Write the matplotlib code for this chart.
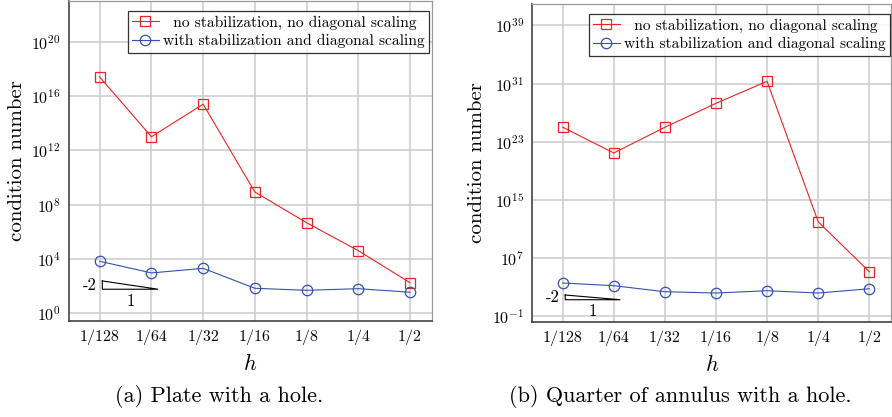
import matplotlib
matplotlib.use("Agg")
import matplotlib.pyplot as plt

plt.rcParams['font.family'] = ['cmr10', 'DejaVu Serif']
plt.rcParams['mathtext.fontset'] = 'cm'
plt.rcParams['axes.unicode_minus'] = False

# mesh sizes and tick labels
h = [1/128, 1/64, 1/32, 1/16, 1/8, 1/4, 1/2]
h_labels = ['1/128', '1/64', '1/32', '1/16', '1/8', '1/4', '1/2']

# (a) plate with a hole, log10 of condition numbers
plate_plain_exp = [17.4, 13.0, 15.4, 8.93, 6.67, 4.61, 2.25]
plate_stab_exp = [3.83, 2.97, 3.31, 1.84, 1.69, 1.81, 1.55]

# (b) quarter of annulus with a hole
annulus_plain_exp = [25.0, 21.45, 24.98, 28.28, 31.3, 12.0, 5.13]
annulus_stab_exp = [3.58, 3.21, 2.38, 2.2, 2.52, 2.2, 2.79]

# slope triangles: x (in h), y top/bottom exponents
tri_h = [2 ** (-7 + 0.05), 2 ** (-7 + 1.13)]
plate_tri_exp = [2.38, 1.77]
annulus_tri_exp = [1.93, 1.28]

RED = '#ee2222'
BLUE = '#3550b0'


def draw(ax, plain_exp, stab_exp, tri_exp, yticks_exp, ylim_exp, leg_off):
    # leading spaces mimic the centred legend entry of pgfplots
    ax.plot(h, [10.0 ** e for e in plain_exp], color=RED, lw=0.8, marker='s', ms=7.5,
            mfc='none', mec=RED, mew=0.9,
            label='  no stabilization, no diagonal scaling')
    ax.plot(h, [10.0 ** e for e in stab_exp], color=BLUE, lw=0.8, marker='o', ms=7.5,
            mfc='none', mec=BLUE, mew=0.9,
            label='with stabilization and diagonal scaling')
    ax.set_xscale('log', base=2)
    ax.set_yscale('log')
    ax.set_xlim(2 ** (-7 - 0.594), 2 ** (-1 + 0.425))
    ax.set_ylim(10.0 ** ylim_exp[0], 10.0 ** ylim_exp[1])
    ax.set_xticks(h)
    ax.set_xticklabels(h_labels)
    ax.set_yticks([10.0 ** e for e in yticks_exp])
    ax.set_yticklabels([r'$10^{%d}$' % e for e in yticks_exp])
    ax.minorticks_off()
    ax.tick_params(length=0, labelsize=11.5, pad=6)
    ax.grid(True, color='#cccccc', lw=1.1)
    ax.set_axisbelow(True)
    for s in ['left', 'bottom']:
        ax.spines[s].set_color('#333333')
        ax.spines[s].set_linewidth(1.1)
    for s in ['top', 'right']:
        ax.spines[s].set_color('#999999')
        ax.spines[s].set_linewidth(0.9)
    ax.set_xlabel(r'$h$', fontsize=16, labelpad=6)
    ax.set_ylabel('condition number', fontsize=15, labelpad=4)

    # slope triangle
    y0, y1 = 10.0 ** tri_exp[0], 10.0 ** tri_exp[1]
    ax.plot([tri_h[0], tri_h[0], tri_h[1], tri_h[0]], [y0, y1, y1, y0],
            color='black', lw=0.8, solid_joinstyle='miter')
    ax.annotate('-2', xy=(tri_h[0], (y0 * y1) ** 0.5), xytext=(-4, 0),
                textcoords='offset points', ha='right', va='center', fontsize=12)
    ax.annotate('1', xy=((tri_h[0] * tri_h[1]) ** 0.5, y1), xytext=(0, -3),
                textcoords='offset points', ha='center', va='top', fontsize=12)

    leg = ax.legend(loc='upper right', bbox_to_anchor=leg_off, fontsize=11.2,
                    frameon=True, fancybox=False, edgecolor='black',
                    handlelength=1.7, handletextpad=0.25, borderpad=0.3,
                    labelspacing=0.25, borderaxespad=0)
    leg.get_frame().set_linewidth(0.9)


fig = plt.figure(figsize=(8.92, 4.17), dpi=100)
W, H = 892, 417
ax1 = fig.add_axes([69 / W, 1 - 321 / H, (432 - 69) / W, (321 - 1) / H])
ax2 = fig.add_axes([532.3 / W, 1 - 321.7 / H, (891 - 532.3) / W, (321.7 - 4) / H])

draw(ax1, plate_plain_exp, plate_stab_exp, plate_tri_exp,
     [0, 4, 8, 12, 16, 20], (-0.57, 23.0), (1 - 3 / 363, 1 - 10 / 320))
draw(ax2, annulus_plain_exp, annulus_stab_exp, annulus_tri_exp,
     [-1, 7, 15, 23, 31, 39], (-1.74, 41.93), (1 - 1 / 359, 1 - 10 / 318))

fig.text(219.5 / W, 1 - 396 / H, '(a) Plate with a hole.', ha='center', va='center',
         fontsize=16)
fig.text(680 / W, 1 - 396 / H, '(b) Quarter of annulus with a hole.', ha='center',
         va='center', fontsize=16)

fig.savefig('out.png', dpi=100)
